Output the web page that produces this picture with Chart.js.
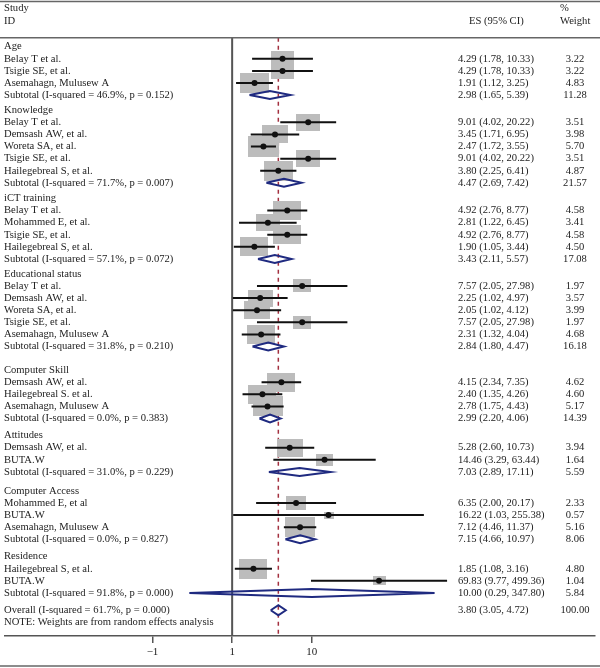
<!DOCTYPE html>
<html>
<head>
<meta charset="utf-8">
<script src="https://cdn.jsdelivr.net/npm/chart.js@4/dist/chart.umd.min.js"></script>
<style>
  body { margin: 0; background: #fff; }
  canvas { display: block; }
</style>
</head>
<body>
<canvas id="forest" width="600" height="668"></canvas>
<script>
// Data
var groupNames = ["Age", "Knowledge", "iCT training", "Educational status",
  "Computer Skill", "Attitudes", "Computer Access", "Residence"];

var studyNames = [
  "Belay T et al.", "Tsigie SE, et al.", "Asemahagn, Mulusew A",
  "Belay T et al.", "Demsash AW, et al.", "Woreta SA, et al.", "Tsigie SE, et al.", "Hailegebreal S, et al.",
  "Belay T et al.", "Mohammed E, et al.", "Tsigie SE, et al.", "Hailegebreal S, et al.",
  "Belay T et al.", "Demsash AW, et al.", "Woreta SA, et al.", "Tsigie SE, et al.", "Asemahagn, Mulusew A",
  "Demsash AW, et al.", "Hailegebreal S. et al.", "Asemahagn, Mulusew A",
  "Demsash AW, et al.", "BUTA.W",
  "Mohammed E, et al", "BUTA.W", "Asemahagn, Mulusew A",
  "Hailegebreal S, et al.", "BUTA.W"
];
var studyGroup = [0,0,0, 1,1,1,1,1, 2,2,2,2, 3,3,3,3,3, 4,4,4, 5,5, 6,6,6, 7,7];
var studyES = [4.29,4.29,1.91, 9.01,3.45,2.47,9.01,3.80, 4.92,2.81,4.92,1.90,
  7.57,2.25,2.05,7.57,2.31, 4.15,2.40,2.78, 5.28,14.46, 6.35,16.22,7.12, 1.85,69.83];
var studyLo = [1.78,1.78,1.12, 4.02,1.71,1.72,4.02,2.25, 2.76,1.22,2.76,1.05,
  2.05,1.02,1.02,2.05,1.32, 2.34,1.35,1.75, 2.60,3.29, 2.00,1.03,4.46, 1.08,9.77];
var studyHi = [10.33,10.33,3.25, 20.22,6.95,3.55,20.22,6.41, 8.77,6.45,8.77,3.44,
  27.98,4.97,4.12,27.98,4.04, 7.35,4.26,4.43, 10.73,63.44, 20.17,255.38,11.37, 3.16,499.36];
var studyWeight = [3.22,3.22,4.83, 3.51,3.98,5.70,3.51,4.87, 4.58,3.41,4.58,4.50,
  1.97,3.57,3.99,1.97,4.68, 4.62,4.60,5.17, 3.94,1.64, 2.33,0.57,5.16, 4.80,1.04];

var subLabels = [
  "Subtotal (I-squared = 46.9%, p = 0.152)",
  "Subtotal (I-squared = 71.7%, p = 0.007)",
  "Subtotal (I-squared = 57.1%, p = 0.072)",
  "Subtotal (I-squared = 31.8%, p = 0.210)",
  "Subtotal (I-squared = 0.0%, p = 0.383)",
  "Subtotal (I-squared = 31.0%, p = 0.229)",
  "Subtotal (I-squared = 0.0%, p = 0.827)",
  "Subtotal (I-squared = 91.8%, p = 0.000)"
];
var subES = [2.98,4.47,3.43,2.84,2.99,7.03,7.15,10.00];
var subLo = [1.65,2.69,2.11,1.80,2.20,2.89,4.66,0.29];
var subHi = [5.39,7.42,5.57,4.47,4.06,17.11,10.97,347.80];
var subWeight = [11.28,21.57,17.08,16.18,14.39,5.59,8.06,5.84];

var overallLabel = "Overall (I-squared = 61.7%, p = 0.000)";
var overallES = 3.80, overallLo = 3.05, overallHi = 4.72, overallWeight = 100.00;
var noteText = "NOTE: Weights are from random effects analysis";

var tickValues = [0.1, 1, 10];
var tickLabels = ["\u22121", "1", "10"];

// layout (row units)
var groupGaps = [1.25, 1.29, 1.23, 1.95, 1.41, 1.57, 1.43, 1.43];
var ROW_PX = 12.2, FIRST_ROW_PX = 42, AXIS_Y = 636;
var NULL_X = 231, DECADE_PX = 81;
var FONT = "10.6px 'Liberation Serif', 'DejaVu Serif', serif";

// build rows
var rows = [];
var pos = 0;
groupNames.forEach(function (g, gi) {
  if (gi > 0) pos += groupGaps[gi - 1];
  rows.push({ kind: "head", text: g, pos: pos });
  studyNames.forEach(function (n, i) {
    if (studyGroup[i] !== gi) return;
    pos += 1;
    rows.push({ kind: "study", i: i, pos: pos });
  });
  pos += 1;
  rows.push({ kind: "sub", g: gi, pos: pos });
});
pos += groupGaps[7];
rows.push({ kind: "overall", pos: pos });
rows.push({ kind: "note", pos: pos + 1 });

function fmt(es, lo, hi) {
  return es.toFixed(2) + " (" + lo.toFixed(2) + ", " + hi.toFixed(2) + ")";
}

// datasets from rows
var boxPts = [], dotPts = [], ciPts = [], diaPts = [];
var boxSizes = [];
rows.forEach(function (r) {
  if (r.kind === "study") {
    var i = r.i;
    boxPts.push({ x: studyES[i], y: r.pos });
    boxSizes.push(studyWeight[i]);
    dotPts.push({ x: studyES[i], y: r.pos });
    ciPts.push({ x: studyLo[i], y: r.pos }, { x: studyHi[i], y: r.pos }, { x: null, y: null });
  } else if (r.kind === "sub" || r.kind === "overall") {
    var es = r.kind === "sub" ? subES[r.g] : overallES;
    var lo = r.kind === "sub" ? subLo[r.g] : overallLo;
    var hi = r.kind === "sub" ? subHi[r.g] : overallHi;
    var h = r.kind === "sub" ? 0.33 : 0.42;
    diaPts.push({ x: lo, y: r.pos }, { x: es, y: r.pos - h }, { x: hi, y: r.pos },
      { x: es, y: r.pos + h }, { x: lo, y: r.pos }, { x: null, y: null });
  }
});

var boxCache = {};
function boxImage(w) {
  if (boxCache[w]) return boxCache[w];
  var c = document.createElement("canvas");
  c.width = Math.round(13 * Math.sqrt(w));
  c.height = Math.round(9 * Math.sqrt(w));
  var g = c.getContext("2d");
  g.fillStyle = "#bcbcbc";
  g.fillRect(0, 0, c.width, c.height);
  boxCache[w] = c;
  return c;
}

var yMin = -FIRST_ROW_PX / ROW_PX;
var yMax = (AXIS_Y - FIRST_ROW_PX) / ROW_PX;
var headerLinePos = (33 - FIRST_ROW_PX) / ROW_PX;
var xMin = Math.pow(10, -NULL_X / DECADE_PX);
var xMax = Math.pow(10, (600 - NULL_X) / DECADE_PX);

var textPlugin = {
  id: "forestText",
  afterDraw: function (chart) {
    var ctx = chart.ctx, y = chart.scales.y;
    var W = chart.width, H = chart.height;
    ctx.save();
    // frame lines
    ctx.strokeStyle = "#666";
    ctx.lineWidth = 1.5;
    [1.5, y.getPixelForValue(headerLinePos), H - 2].forEach(function (py) {
      ctx.beginPath(); ctx.moveTo(0, py); ctx.lineTo(W, py); ctx.stroke();
    });
    ctx.fillStyle = "#222";
    ctx.font = FONT;
    ctx.textBaseline = "middle";
    ctx.textAlign = "left";
    ctx.fillText("Study", 4, 8);
    ctx.fillText("ID", 4, 21);
    ctx.fillText("ES (95% CI)", 469, 21);
    ctx.fillText("%", 560, 8);
    ctx.fillText("Weight", 560, 21);
    rows.forEach(function (r) {
      var py = y.getPixelForValue(r.pos);
      var label = "", es = "", wt = "";
      if (r.kind === "head") label = r.text;
      else if (r.kind === "study") {
        label = studyNames[r.i];
        es = fmt(studyES[r.i], studyLo[r.i], studyHi[r.i]);
        wt = studyWeight[r.i].toFixed(2);
      } else if (r.kind === "sub") {
        label = subLabels[r.g];
        es = fmt(subES[r.g], subLo[r.g], subHi[r.g]);
        wt = subWeight[r.g].toFixed(2);
      } else if (r.kind === "overall") {
        label = overallLabel;
        es = fmt(overallES, overallLo, overallHi);
        wt = overallWeight.toFixed(2);
      } else label = noteText;
      ctx.textAlign = "left";
      ctx.fillText(label, 4, py);
      if (es) ctx.fillText(es, 458, py);
      if (wt) { ctx.textAlign = "center"; ctx.fillText(wt, 575, py); }
    });
    ctx.restore();
  }
};

new Chart("forest", {
  type: "scatter",
  data: {
    datasets: [
      { // dashed line at overall estimate
        data: [{ x: overallES, y: headerLinePos }, { x: overallES, y: yMax }],
        showLine: true, borderColor: "#a3303f", borderWidth: 1.5, borderDash: [4, 4],
        pointRadius: 0, order: 6
      },
      { // null line
        data: [{ x: 1, y: headerLinePos }, { x: 1, y: yMax }],
        showLine: true, borderColor: "#555", borderWidth: 2, pointRadius: 0, order: 5
      },
      { // weight boxes
        data: boxPts,
        pointStyle: function (c) { return boxImage(boxSizes[c.dataIndex]); },
        order: 4
      },
      { // confidence intervals
        data: ciPts, showLine: true, spanGaps: false, borderColor: "#111",
        borderWidth: 2, pointRadius: 0, order: 3
      },
      { // point estimates
        data: dotPts, pointRadius: 3, backgroundColor: "#111", borderWidth: 0, order: 2
      },
      { // pooled diamonds
        data: diaPts, showLine: true, spanGaps: false, borderColor: "#1f2a80",
        borderWidth: 2, pointRadius: 0, order: 1
      }
    ]
  },
  options: {
    responsive: false,
    animation: false,
    devicePixelRatio: 1,
    clip: false,
    layout: { padding: 0 },
    plugins: { legend: { display: false }, tooltip: { enabled: false } },
    scales: {
      x: {
        type: "logarithmic",
        min: xMin, max: xMax, bounds: "data",
        afterBuildTicks: function (s) {
          s.ticks = tickValues.map(function (v) { return { value: v }; });
        },
        afterFit: function (s) { s.height = 668 - AXIS_Y; },
        ticks: {
          autoSkip: false, maxRotation: 0, padding: 3, color: "#222",
          font: { family: "'Liberation Serif', serif", size: 11 },
          callback: function (v, i) { return tickLabels[i]; }
        },
        grid: { drawOnChartArea: false, drawTicks: true, tickLength: 7, color: "#555", lineWidth: 1.5 },
        border: { display: true, color: "#555", width: 1.5 }
      },
      y: {
        type: "linear", display: false, reverse: true,
        min: yMin, max: yMax, bounds: "data"
      }
    }
  },
  plugins: [textPlugin]
});
</script>
</body>
</html>
